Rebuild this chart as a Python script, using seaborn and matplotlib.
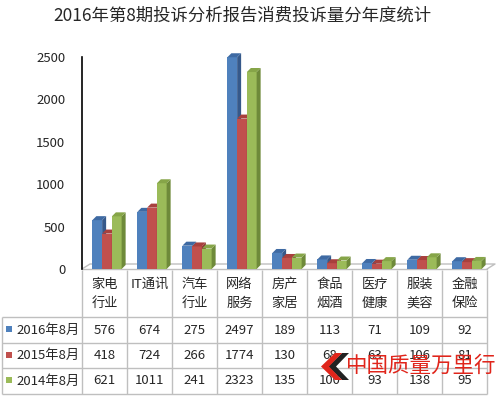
import numpy as np
import pandas as pd
import matplotlib
matplotlib.use("Agg")
import matplotlib.pyplot as plt
import seaborn as sns
from matplotlib.patches import Polygon

# data
categories = ['家电\n行业', 'IT通讯', '汽车\n行业', '网络\n服务', '房产\n家居',
              '食品\n烟酒', '医疗\n健康', '服装\n美容', '金融\n保险']
series = ['2016年8月', '2015年8月', '2014年8月']
v2016 = [576, 674, 275, 2497, 189, 113, 71, 109, 92]
v2015 = [418, 724, 266, 1774, 130, 68, 63, 106, 81]
v2014 = [621, 1011, 241, 2323, 135, 100, 93, 138, 95]
yticks = [0, 500, 1000, 1500, 2000, 2500]

front_colors = ['#4F81BD', '#C0504D', '#9BBB59']
side_colors = ['#36598A', '#8B3532', '#6E8A3A']
top_colors = ['#3E6AA3', '#A8403D', '#86A548']

df = pd.DataFrame({
    'cat': categories * 3,
    'series': np.repeat(series, len(categories)),
    'value': v2016 + v2015 + v2014,
})

sns.set_style('white')
plt.rcParams['font.family'] = ['Noto Sans CJK SC', 'DejaVu Sans']

W, H = 500, 396
fig = plt.figure(figsize=(W / 100, H / 100), dpi=100)

# chart area in pixels
ax_l, ax_r, ax_t, ax_b = 82, 487, 57, 269
ax = fig.add_axes([ax_l / W, (H - ax_b) / H, (ax_r - ax_l) / W, (ax_b - ax_t) / H])

sns.barplot(data=df, x='cat', y='value', hue='series', order=categories,
            hue_order=series, palette=front_colors, saturation=1, width=0.65,
            gap=0, legend=False, ax=ax)

ax.set_xlim(-0.5, len(categories) - 0.5)
ax.set_ylim(0, 2500)
px_x = (ax_r - ax_l) / len(categories)   # pixels per x unit
px_y = (ax_b - ax_t) / 2500               # pixels per y unit

# fake 3D depth on each bar
dx, dy = 4 / px_x, 4 / px_y
shift = 2.5 / px_x
n = len(categories)
for i, p in enumerate(ax.patches):
    k = i // n
    p.set_x(p.get_x() + shift)
    p.set_edgecolor('none')
    p.set_zorder(3 + 2 * k)
    x0, w, h = p.get_x(), p.get_width(), p.get_height()
    ax.add_patch(Polygon([(x0 + w, 0), (x0 + w + dx, dy), (x0 + w + dx, h + dy), (x0 + w, h)],
                         closed=True, fc=side_colors[k], ec='none', zorder=3 + 2 * k, clip_on=False))
    ax.add_patch(Polygon([(x0, h), (x0 + dx, h + dy), (x0 + w + dx, h + dy), (x0 + w, h)],
                         closed=True, fc=top_colors[k], ec='none', zorder=3 + 2 * k, clip_on=False))

# floor
fdx, fdy = 8 / px_x, 5 / px_y
ax.plot([-0.5, -0.5 + fdx, n - 0.5 + fdx, n - 0.5], [0, fdy, fdy, 0],
        color='#BFBFBF', lw=1, clip_on=False, zorder=1)
ax.plot([-0.5, n - 0.5], [0, 0], color='#BFBFBF', lw=1, clip_on=False, zorder=1)

ax.set_xticks([])
ax.set_yticks(yticks)
ax.set_yticklabels([str(t) for t in yticks], fontsize=9.5)
ax.tick_params(axis='y', length=0, pad=12)
ax.set_xlabel('')
ax.set_ylabel('')
for s in ['top', 'right', 'bottom']:
    ax.spines[s].set_visible(False)
ax.spines['left'].set_color('black')
ax.spines['left'].set_linewidth(1.2)

# data table under the chart
tb_t, tb_b = 270, 394
tax = fig.add_axes([ax_l / W, (H - tb_b) / H, (ax_r - ax_l) / W, (tb_b - tb_t) / H])
tax.set_xlim(-0.5, n - 0.5)
tax.set_ylim(tb_b - tb_t, 0)
tax.axis('off')

left = -0.5 - 80 / px_x
row_lines = [47, 73, 98, 124]
grid = '#BFBFBF'
tax.vlines(np.arange(-0.5, n, 1), 0, 124, color=grid, lw=1, clip_on=False)
tax.vlines([left], 47, 124, color=grid, lw=1, clip_on=False)
tax.hlines(row_lines, left, n - 0.5, color=grid, lw=1, clip_on=False)

for i, c in enumerate(categories):
    tax.text(i, 8, c, ha='center', va='top', fontsize=9.5, linespacing=1.55)

row_mid = [(row_lines[j] + row_lines[j + 1]) / 2 for j in range(3)]
for j, vals in enumerate([v2016, v2015, v2014]):
    y = row_mid[j]
    tax.scatter([left + 7.5 / px_x], [y - 1], marker='s', s=22, color=front_colors[j],
                clip_on=False, linewidths=0)
    tax.text(left + 14 / px_x, y, series[j], ha='left', va='center', fontsize=9.5, clip_on=False)
    for i, v in enumerate(vals):
        tax.text(i, y, str(v), ha='center', va='center', fontsize=9.5)

fig.text(0.485, 1 - 16 / H, '2016年第8期投诉分析报告消费投诉量分年度统计',
         ha='center', va='center', fontsize=12.5)

# watermark logo
def chevron(x0, color):
    pts = [(x0 + 14, 353), (x0, 366.5), (x0 + 14, 380), (x0 + 21, 380), (x0 + 8, 366.5), (x0 + 21, 353)]
    fig.add_artist(Polygon([(x / W, 1 - y / H) for x, y in pts], closed=True,
                           transform=fig.transFigure, fc=color, ec='none', zorder=10))

chevron(328, '#222222')
chevron(321, '#E0251B')
fig.text((352 + 490) / 2 / W, 1 - 366 / H, '中国质量万里行', ha='center', va='center',
         fontsize=15.5, color='#E0251B', style='italic', zorder=10)

fig.savefig('out.png', dpi=100)
